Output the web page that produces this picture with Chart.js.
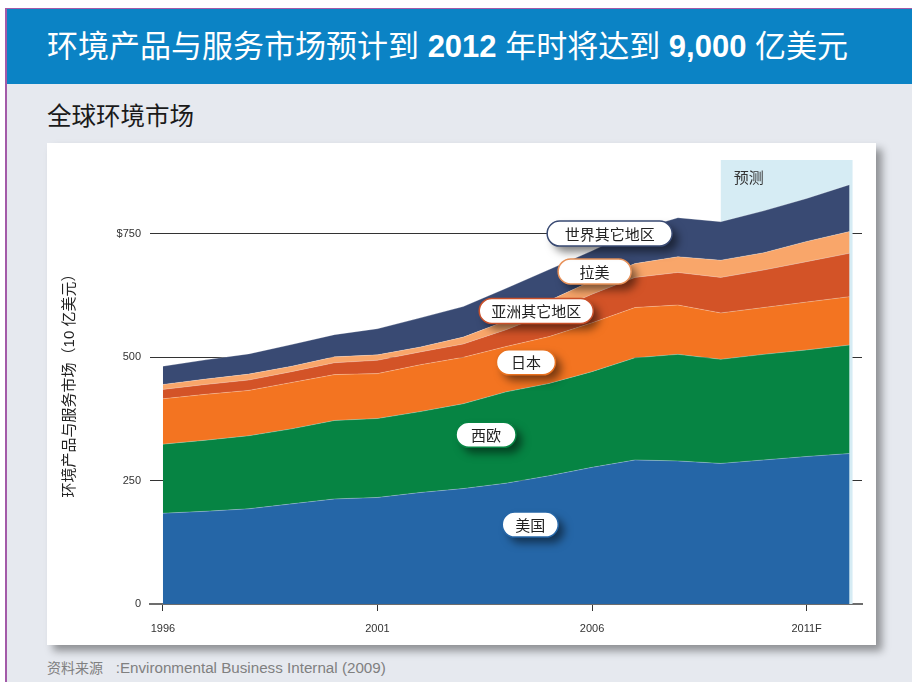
<!DOCTYPE html>
<html><head><meta charset="utf-8">
<script src="https://cdn.jsdelivr.net/npm/chart.js@4"></script>
<style>
html,body{margin:0;padding:0;background:#fff;width:912px;height:682px;overflow:hidden;font-family:"Liberation Sans","Noto Sans CJK SC",sans-serif;}
.abs{position:absolute;}
#frameL{left:5px;top:8px;width:2px;height:674px;background:#a35aa8;}
#frameT{left:5px;top:8px;width:907px;height:1px;background:#a35aa8;}
#hdr{left:7px;top:9px;width:905px;height:75px;background:#0b83c5;}
#bodybg{left:7px;top:84px;width:905px;height:598px;background:#e6e9ef;}
#title{left:47px;top:28px;color:#fff;font-size:31px;line-height:38px;white-space:nowrap;}
#title b{font-weight:bold;}
#sub{left:47px;top:102px;color:#1a1a1a;font-size:24.5px;line-height:30px;white-space:nowrap;}
#panel{left:47px;top:143px;width:829px;height:502px;background:#fff;box-shadow:6px 6px 8px rgba(0,0,0,0.38);}
#src{left:47px;top:658px;color:#808080;font-size:14px;line-height:20px;white-space:pre;}
#src span{font-size:15.2px;}
canvas{display:block;}
</style></head>
<body>
<div class="abs" id="bodybg"></div>
<div class="abs" id="hdr"></div>
<div class="abs" id="frameL"></div>
<div class="abs" id="frameT"></div>
<div class="abs" id="title">环境产品与服务市场预计到 <b>2012</b> 年时将达到 <b>9,000</b> 亿美元</div>
<div class="abs" id="sub">全球环境市场</div>
<div class="abs" id="panel"><canvas id="c" width="829" height="502"></canvas></div>
<div class="abs" id="src">资料来源<span>   :Environmental Business Internal (2009)</span></div>
<script>
// ---- data ----
const years = [1996,1997,1998,1999,2000,2001,2002,2003,2004,2005,2006,2007,2008,2009,2010,2011,2012];
const tickYears = [1996,2001,2006,2011];
const tickLabels = ['1996','2001','2006','2011F'];
const yTickValues = [0,250,500,750];
const yTickLabels = ['0','250','500','$750'];
const seriesNames = ['美国','西欧','日本','亚洲其它地区','拉美','世界其它地区'];
const usa          = [184,188,193,203,213,216,226,234,245,260,277,292,290,285,292,299,305];
const westEurope   = [140,144,148,152,159,160,164,172,185,187,194,207,216,211,214,216,220];
const japan        = [ 92, 93, 92, 94, 93, 91, 95, 94, 92, 95, 99,102,100, 94, 95, 97, 98];
const restOfAsia   = [ 19, 20, 21, 22, 24, 27, 26, 27, 34, 48, 58, 61, 66, 72, 76, 82, 88];
const latinAmerica = [ 10, 11, 12, 11, 12, 11, 10, 14, 18, 25, 27, 28, 32, 35, 35, 41, 44];
const restOfWorld  = [ 37, 39, 41, 44, 45, 53, 59, 62, 66, 63, 61, 67, 79, 78, 85, 87, 95];
const forecastFrom = 2009, forecastTo = 2012;
const forecastLabel = '预测';
const yTitle = '环境产品与服务市场（10 亿美元）';

// ---- styles ----
const colors = ['#2566a7','#068443','#f37421','#d35327','#f9a66a','#394a73'];
const borders = ['#2566a7','#068443','#e8711f','#c9502a','#e8925a','#394a73'];
// label bubbles: [series index, year, value, width]
const bubbles = [
  [0, 2004.56, 161, 56],
  [1, 2003.53, 343, 60],
  [2, 2004.46, 490, 59],
  [3, 2004.70, 594, 114],
  [4, 2006.06, 674, 73],
  [5, 2006.41, 751, 125]
];

Chart.defaults.font.family = '"Liberation Sans","Noto Sans CJK SC",sans-serif';
const allSeries = [usa, westEurope, japan, restOfAsia, latinAmerica, restOfWorld];

const forecastPlugin = {
  id:'forecast',
  beforeDatasetsDraw(chart){
    const {ctx, chartArea, scales:{x,y}} = chart;
    const x0 = x.getPixelForValue(forecastFrom);
    const x1 = x.getPixelForValue(forecastTo) + 3;
    ctx.save();
    ctx.fillStyle = '#d6ecf4';
    ctx.fillRect(x0, chartArea.top, x1 - x0, chartArea.bottom - chartArea.top);
    ctx.fillStyle = '#333';
    ctx.font = '15px "Noto Sans CJK SC", sans-serif';
    ctx.textBaseline = 'middle';
    ctx.textAlign = 'left';
    ctx.fillText(forecastLabel, x0 + 13, chartArea.top + 17);
    ctx.restore();
  }
};

const bubblePlugin = {
  id:'bubbles',
  afterDatasetsDraw(chart){
    const {ctx, scales:{x,y}} = chart;
    bubbles.forEach(([si, yr, val, w]) => {
      const cx = x.getPixelForValue(yr), cy = y.getPixelForValue(val);
      const h = 25, r = h/2;
      const left = cx - w/2, top = cy - h/2;
      ctx.save();
      ctx.beginPath();
      ctx.roundRect(left, top, w, h, r);
      ctx.shadowColor = 'rgba(0,0,0,0.5)';
      ctx.shadowBlur = 9;
      ctx.shadowOffsetX = 6;
      ctx.shadowOffsetY = 6;
      ctx.fillStyle = '#fff';
      ctx.fill();
      ctx.shadowColor = 'transparent';
      ctx.lineWidth = 1.5;
      ctx.strokeStyle = borders[si];
      ctx.stroke();
      ctx.fillStyle = '#222';
      ctx.font = '15px "Noto Sans CJK SC", sans-serif';
      ctx.textAlign = 'center';
      ctx.textBaseline = 'middle';
      ctx.fillText(seriesNames[si], cx, cy + 0.5);
      ctx.restore();
    });
  }
};

new Chart(document.getElementById('c'), {
  type:'line',
  data:{
    datasets: allSeries.map((arr,i)=>({
      label: seriesNames[i],
      data: years.map((yr,k)=>({x:yr, y:arr[k]})),
      backgroundColor: colors[i],
      borderColor: 'rgba(255,255,255,0.25)',
      borderWidth: 1,
      pointRadius: 0,
      tension: 0,
      fill: i===0 ? 'origin' : '-1'
    }))
  },
  options:{
    responsive:false,
    animation:false,
    devicePixelRatio:1,
    layout:{padding:{left:0,right:14,top:17,bottom:0}},
    plugins:{legend:{display:false}, tooltip:{enabled:false}},
    scales:{
      x:{
        type:'linear',
        min:1995.70, max:2012.29,
        afterBuildTicks(s){ s.ticks = tickYears.map(v=>({value:v})); },
        ticks:{
          callback:(v)=> tickLabels[tickYears.indexOf(v)],
          color:'#333', font:{size:11}, padding:11, maxRotation:0, autoSkip:false
        },
        grid:{drawOnChartArea:false, drawTicks:true, tickLength:7, color:'#333', lineWidth:1},
        border:{display:true, color:'#6d6d6d', width:2},
        afterFit(s){ s.height = 41; }
      },
      y:{
        stacked:true,
        min:0, max:900,
        afterBuildTicks(s){ s.ticks = yTickValues.map(v=>({value:v})); },
        ticks:{
          callback:(v)=> yTickLabels[yTickValues.indexOf(v)],
          color:'#333', font:{size:11}, padding:9
        },
        grid:{drawTicks:false, color:(c)=> c.tick && c.tick.value===0 ? 'rgba(0,0,0,0)' : '#333', lineWidth:1},
        border:{display:false},
        title:{display:true, text:yTitle, color:'#222', font:{size:15}, padding:{top:14,bottom:0}},
        afterFit(s){ s.width = 103; }
      }
    }
  },
  plugins:[forecastPlugin, bubblePlugin]
});
</script>
</body></html>
